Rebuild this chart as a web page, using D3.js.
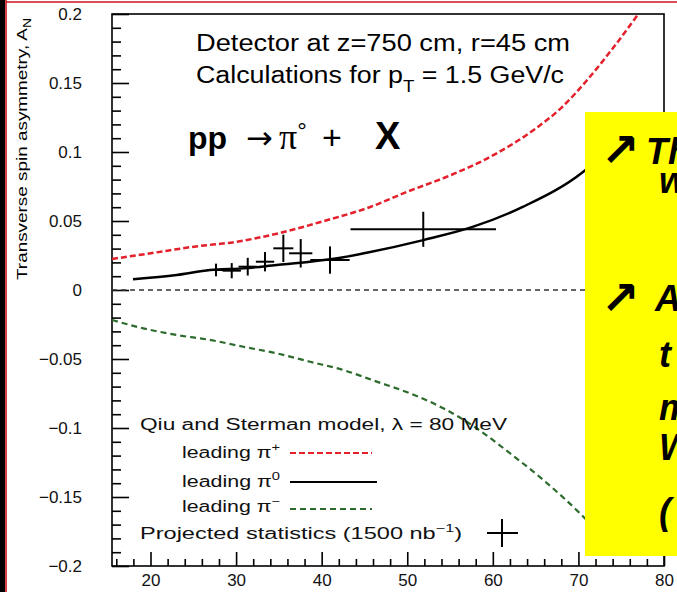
<!DOCTYPE html>
<html><head><meta charset="utf-8">
<script src="https://cdn.jsdelivr.net/npm/d3@7"></script>
<style>
html,body{margin:0;padding:0;background:#fff;overflow:hidden}
svg{display:block}
</style></head><body>
<svg id="chart" width="677" height="592"></svg>
<script>
// Transverse single-spin asymmetry A_N versus x (leading pion), Qiu–Sterman model curves
const piPlusX  = [15.5, 20.2, 25.1, 30.1, 35.1, 40.0, 45.6, 50.0, 55.0, 60.0, 65.0, 68.0, 71.0, 74.0, 77.0];
const piPlusY  = [0.0225, 0.0268, 0.0314, 0.035, 0.0413, 0.0495, 0.060, 0.0712, 0.083, 0.0975, 0.117, 0.132, 0.152, 0.175, 0.2];

const piZeroX  = [17.95, 23.06, 26.95, 30.84, 34.74, 38.64, 42.53, 45.26, 51.87, 57.72, 63.56, 70.57, 77.4];
const piZeroY  = [0.0078, 0.0109, 0.0145, 0.0157, 0.0181, 0.0205, 0.0237, 0.027, 0.0362, 0.0459, 0.0604, 0.0857, 0.128];

const piMinusX = [15.5, 19.16, 23.06, 26.95, 30.84, 34.74, 38.64, 42.53, 46.43, 50.32, 54.21, 58.11, 62.0, 65.9, 70.57, 72.5];
const piMinusY = [-0.0217, -0.0278, -0.0326, -0.0362, -0.0411, -0.0459, -0.052, -0.058, -0.0664, -0.0749, -0.0857, -0.1002, -0.1183, -0.1377, -0.1643, -0.177];

// projected statistics (1500 nb^-1)
const projX    = [27.65, 29.49, 31.36, 33.38, 35.52, 37.55, 40.97, 51.87];
const projXErr = [1.07, 1.07, 1.07, 1.07, 1.17, 1.36, 2.3, 8.5];
const projY    = [0.0145, 0.014, 0.0169, 0.0205, 0.0302, 0.0266, 0.0217, 0.044];
const projYErr = [0.0046, 0.0055, 0.0064, 0.007, 0.0099, 0.0103, 0.0099, 0.0127];

const xTicks = [20, 30, 40, 50, 60, 70, 80];
const yTicks = [-0.2, -0.15, -0.1, -0.05, 0, 0.05, 0.1, 0.15, 0.2];
const yTickLabels = ["\u22120.2", "\u22120.15", "\u22120.1", "\u22120.05", "0", "0.05", "0.1", "0.15", "0.2"];

const RED = "#e3202b", GREEN = "#2c6b2c";
const svg = d3.select("#chart");

// page frame
svg.append("rect").attr("width", 677).attr("height", 592).attr("fill", "#fff");
svg.append("rect").attr("x", 0).attr("y", 0).attr("width", 5).attr("height", 592).attr("fill", "#000");
svg.append("line").attr("x1", 6).attr("x2", 6).attr("y1", 0).attr("y2", 592).attr("stroke", "#c8161e").attr("stroke-width", 1.6);
svg.append("line").attr("x1", 6).attr("x2", 677).attr("y1", 2).attr("y2", 2).attr("stroke", "#c8161e").attr("stroke-width", 1.6);

const x = d3.scaleLinear().domain([15.5, 80]).range([112, 664]);
const y = d3.scaleLinear().domain([-0.2, 0.2]).range([566, 14]);
const [x0, x1] = x.range(), [y0, y1] = y.range();

svg.append("clipPath").attr("id", "plot").append("rect")
  .attr("x", x0).attr("y", y1).attr("width", x1 - x0).attr("height", y0 - y1);

const tickFont = "'Liberation Sans', Arial, sans-serif";

// y axis: major ticks with labels, minor ticks every 0.01
svg.append("g").attr("transform", `translate(${x0},0)`)
  .call(d3.axisLeft(y).tickValues(yTicks).tickSizeInner(-17).tickSizeOuter(0).tickPadding(30)
    .tickFormat((d, i) => yTickLabels[i]));
const yMinor = y.ticks(40).filter(v => !yTicks.some(t => Math.abs(t - v) < 1e-9));
svg.append("g").attr("transform", `translate(${x0},0)`)
  .call(d3.axisLeft(y).tickValues(yMinor).tickSizeInner(-9).tickSizeOuter(0).tickFormat(""));

// x axis: major ticks every 10, minor every 2
svg.append("g").attr("transform", `translate(0,${y0})`)
  .call(d3.axisBottom(x).tickValues(xTicks).tickSizeInner(-14).tickSizeOuter(0).tickPadding(8));
const xMinor = x.ticks(32).filter(v => !xTicks.includes(v));
svg.append("g").attr("transform", `translate(0,${y0})`)
  .call(d3.axisBottom(x).tickValues(xMinor).tickSizeInner(-7).tickSizeOuter(0).tickFormat(""));

svg.selectAll(".domain").remove();
svg.selectAll(".tick line").attr("stroke", "#000").attr("stroke-width", 1.6);
svg.selectAll(".tick text").attr("font-family", tickFont).attr("font-size", 17).attr("fill", "#111");

// plot frame
svg.append("rect").attr("x", x0).attr("y", y1).attr("width", x1 - x0).attr("height", y0 - y1)
  .attr("fill", "none").attr("stroke", "#000").attr("stroke-width", 1.6);

const plot = svg.append("g").attr("clip-path", "url(#plot)");

// zero line
plot.append("line").attr("x1", x0).attr("x2", x1).attr("y1", y(0)).attr("y2", y(0))
  .attr("stroke", "#333").attr("stroke-width", 1.5).attr("stroke-dasharray", "5,4");

const line = d3.line().x(d => x(d[0])).y(d => y(d[1])).curve(d3.curveMonotoneX);
const curves = [
  {xs: piPlusX,  ys: piPlusY,  color: RED,   dash: "6,3", w: 2.5},
  {xs: piZeroX,  ys: piZeroY,  color: "#000", dash: null, w: 2.4},
  {xs: piMinusX, ys: piMinusY, color: GREEN, dash: "6,4", w: 2.2}
];
curves.forEach(c => {
  plot.append("path").datum(d3.zip(c.xs, c.ys)).attr("d", line)
    .attr("fill", "none").attr("stroke", c.color).attr("stroke-width", c.w)
    .attr("stroke-dasharray", c.dash);
});

// projected statistics crosses
const pts = plot.append("g").attr("stroke", "#000").attr("stroke-width", 2);
projX.forEach((px, i) => {
  pts.append("line").attr("x1", x(px - projXErr[i])).attr("x2", x(px + projXErr[i]))
    .attr("y1", y(projY[i])).attr("y2", y(projY[i]));
  pts.append("line").attr("x1", x(px)).attr("x2", x(px))
    .attr("y1", y(projY[i] - projYErr[i])).attr("y2", y(projY[i] + projYErr[i]));
});

// header text
const sans = "'Liberation Sans', Arial, Helvetica, sans-serif";
svg.append("text").attr("x", 196).attr("y", 51).attr("font-family", sans).attr("font-size", 23)
  .attr("textLength", 374).attr("lengthAdjust", "spacingAndGlyphs")
  .text("Detector at z=750 cm, r=45 cm");
const calc = svg.append("text").attr("x", 196).attr("y", 83).attr("font-family", sans).attr("font-size", 23)
  .attr("textLength", 368).attr("lengthAdjust", "spacingAndGlyphs");
calc.append("tspan").text("Calculations for p");
calc.append("tspan").attr("dy", 9).attr("font-size", 16).text("T");
calc.append("tspan").attr("dy", -9).text(" = 1.5  GeV/c");

// reaction label
const reac = svg.append("text").attr("y", 149).attr("font-family", sans).attr("font-size", 32);
reac.append("tspan").attr("x", 188).attr("font-weight", "bold").text("pp");
reac.append("tspan").attr("x", 246).attr("font-family", "'DejaVu Sans', sans-serif").attr("font-size", 32).text("\u2192");
reac.append("tspan").attr("x", 279).attr("font-family", "'Liberation Serif', serif").attr("font-size", 36).text("\u03c0");
reac.append("tspan").attr("dy", -10).attr("font-size", 24).text("\u00b0");
reac.append("tspan").attr("x", 322).attr("dy", 10).attr("font-size", 34).text("+");
reac.append("tspan").attr("x", 375).attr("font-weight", "bold").attr("font-size", 38).text("X");

// y axis title
const yt = svg.append("text").attr("transform", "translate(27,149) rotate(-90)")
  .attr("text-anchor", "middle").attr("font-family", sans).attr("font-size", 15)
  .attr("textLength", 262).attr("lengthAdjust", "spacingAndGlyphs");
yt.append("tspan").text("Transverse spin asymmetry, A");
yt.append("tspan").attr("dy", 4).attr("font-size", 11).text("N");

// legend
const lg = svg.append("g").attr("font-family", sans).attr("fill", "#111");
lg.append("text").attr("x", 140).attr("y", 430).attr("font-size", 16)
  .attr("textLength", 367).attr("lengthAdjust", "spacingAndGlyphs")
  .text("Qiu and Sterman model, \u03bb = 80 MeV");
const legendRows = [
  {sup: "+", y: 458, color: RED,   dash: "6,3", ly: 453, len: 82},
  {sup: "0", y: 487, color: "#000", dash: null, ly: 482, len: 87},
  {sup: "\u2212", y: 512, color: GREEN, dash: "6,4", ly: 509, len: 82}
];
legendRows.forEach(r => {
  const t = lg.append("text").attr("x", 182).attr("y", r.y).attr("font-size", 16)
    .attr("textLength", 98).attr("lengthAdjust", "spacingAndGlyphs");
  t.append("tspan").text("leading \u03c0");
  t.append("tspan").attr("dy", -7).attr("font-size", 11).text(r.sup);
  lg.append("line").attr("x1", 290).attr("x2", 290 + r.len).attr("y1", r.ly).attr("y2", r.ly)
    .attr("stroke", r.color).attr("stroke-width", 2.2).attr("stroke-dasharray", r.dash);
});
const pj = lg.append("text").attr("x", 140).attr("y", 539).attr("font-size", 16)
  .attr("textLength", 322).attr("lengthAdjust", "spacingAndGlyphs");
pj.append("tspan").text("Projected statistics (1500 nb");
pj.append("tspan").attr("dy", -7).attr("font-size", 11).text("\u22121");
pj.append("tspan").attr("dy", 7).text(")");
lg.append("line").attr("x1", 487).attr("x2", 518).attr("y1", 533).attr("y2", 533).attr("stroke", "#000").attr("stroke-width", 2);
lg.append("line").attr("x1", 502).attr("x2", 502).attr("y1", 519).attr("y2", 547).attr("stroke", "#000").attr("stroke-width", 2);

// yellow note panel over the right side
svg.append("rect").attr("x", 585).attr("y", 112).attr("width", 100).attr("height", 444).attr("fill", "#ffff00");
const note = svg.append("g").attr("font-family", sans).attr("font-weight", "bold").attr("font-style", "italic")
  .attr("font-size", 36).attr("fill", "#000");
const arrowFont = "'DejaVu Sans', sans-serif";
note.append("text").attr("x", 601).attr("y", 166).attr("font-family", arrowFont).attr("font-style", "normal").attr("font-size", 46).text("\u2197");
note.append("text").attr("x", 646).attr("y", 164).text("Th");
note.append("text").attr("x", 659).attr("y", 193).text("w");
note.append("text").attr("x", 601).attr("y", 314).attr("font-family", arrowFont).attr("font-style", "normal").attr("font-size", 46).text("\u2197");
note.append("text").attr("x", 655).attr("y", 311).text("A");
note.append("text").attr("x", 659).attr("y", 367).text("t");
note.append("text").attr("x", 659).attr("y", 420).text("m");
note.append("text").attr("x", 659).attr("y", 460).text("W");
note.append("text").attr("x", 659).attr("y", 524).text("(");
</script>
</body></html>
